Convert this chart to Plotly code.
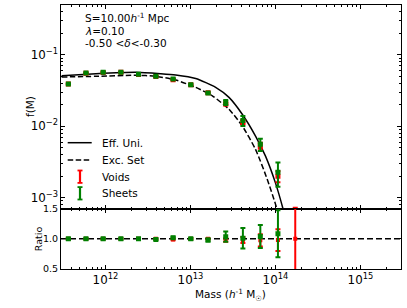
import plotly.graph_objects as go
import math

# ---------------- data ----------------
mass_bins = [3.66e11, 5.9e11, 9.4e11, 1.52e12, 2.45e12, 3.92e12, 6.25e12,
             1.01e13, 1.61e13, 2.6e13, 4.14e13, 6.64e13, 1.07e14, 1.71e14]

f_sheets = [0.0391, 0.0558, 0.0571, 0.0571, 0.0535, 0.0501, 0.0459,
            0.0382, 0.0292, 0.0216, 0.0120, 0.0056, 0.00226]
err_sheets = [0.0004, 0.0005, 0.0005, 0.0005, 0.0005, 0.0005, 0.0006,
              0.0006, 0.0008, 0.0018, 0.0019, 0.0011, 0.00084]

f_voids = [0.0390, 0.0555, 0.0568, 0.0570, 0.0533, 0.0499, 0.0450,
           0.0381, 0.0296, 0.02053, 0.01147, 0.00537, 0.00199, 0.0003]
err_voids_plus = [0.0004, 0.0005, 0.0005, 0.0005, 0.0005, 0.0005, 0.0006,
                  0.0006, 0.0004, 0.00077, 0.0008, 0.00052, 0.00035, 0.00042]
err_voids_minus = [0.0004, 0.0005, 0.0005, 0.0005, 0.0005, 0.0005, 0.0006,
                   0.0006, 0.0004, 0.00077, 0.0008, 0.00052, 0.00035, 0.00029]

ratio_sheets = [1.0, 1.0, 1.0, 1.0, 1.0, 0.99, 1.02, 1.0, 0.98, 1.035, 1.01, 1.04, 1.086]
ratio_sheets_err = [0.01, 0.01, 0.01, 0.01, 0.01, 0.01, 0.015, 0.015, 0.025, 0.085, 0.17, 0.19, 0.39]
ratio_voids = [1.0, 1.0, 1.0, 1.0, 1.0, 1.0, 0.99, 1.0, 1.0, 0.98, 0.98, 0.975, 0.98, 1.0]
ratio_voids_err = [0.01, 0.01, 0.01, 0.01, 0.01, 0.01, 0.015, 0.015, 0.01, 0.03, 0.05, 0.1, 0.18, 1.2]

mass_eff_uni = [3.05e11, 7.73e11, 2.28e12, 4.48e12, 6.71e12, 1.153e13, 1.98e13,
                2.84e13, 4.07e13, 5.83e13, 7.64e13, 1.0e14, 1.22e14, 1.43e14]
f_eff_uni = [0.0511, 0.0545, 0.0571, 0.0545, 0.0523, 0.0467, 0.0351,
             0.0254, 0.01476, 0.0073, 0.00382, 0.00161, 0.000716, 0.000332]

mass_exc_set = [3.05e11, 7.73e11, 2.28e12, 3.92e12, 6.71e12, 1.153e13, 1.81e13,
                2.84e13, 4.07e13, 5.83e13, 8.02e13, 1.02e14, 1.15e14]
f_exc_set = [0.0490, 0.0501, 0.0518, 0.0501, 0.0445, 0.0351, 0.0267,
             0.0173, 0.0101, 0.00474, 0.0018, 0.000755, 0.00046]

legend_labels = ["Eff. Uni.", "Exc. Set", "Voids", "Sheets"]

ratio_reference = 1.0
x_limits = [3e11, 3e15]
f_limits = [7e-4, 0.5]
ratio_limits = [0.5, 1.5]

RED = "#ff0000"
GREEN = "#008000"
FONT = "DejaVu Sans"
DASH = "5.5px,2.5px"

fig = go.Figure()

# ---- top panel ----
fig.add_trace(go.Scatter(x=mass_eff_uni, y=f_eff_uni, mode="lines",
                         line=dict(color="black", width=1.5, shape="spline", smoothing=0.6),
                         name=legend_labels[0], showlegend=False, xaxis="x", yaxis="y"))
fig.add_trace(go.Scatter(x=mass_exc_set, y=f_exc_set, mode="lines",
                         line=dict(color="black", width=1.5, dash=DASH,
                                   shape="spline", smoothing=0.6),
                         name=legend_labels[1], showlegend=False, xaxis="x", yaxis="y"))
fig.add_trace(go.Scatter(x=mass_bins, y=f_voids, mode="markers", name=legend_labels[2],
                         marker=dict(symbol="square", size=5, color=RED),
                         error_y=dict(type="data", array=err_voids_plus, arrayminus=err_voids_minus,
                                      color=RED, thickness=2, width=2.5),
                         showlegend=False, xaxis="x", yaxis="y"))
fig.add_trace(go.Scatter(x=mass_bins[:len(f_sheets)], y=f_sheets, mode="markers",
                         name=legend_labels[3],
                         marker=dict(symbol="square", size=5, color=GREEN),
                         error_y=dict(type="data", array=err_sheets,
                                      color=GREEN, thickness=2, width=2.5),
                         showlegend=False, xaxis="x", yaxis="y"))

# ---- ratio panel ----
fig.add_trace(go.Scatter(x=mass_bins, y=ratio_voids, mode="markers", name=legend_labels[2],
                         marker=dict(symbol="square", size=4, color=RED),
                         error_y=dict(type="data", array=ratio_voids_err,
                                      color=RED, thickness=2, width=2.5),
                         showlegend=False, xaxis="x2", yaxis="y2"))
fig.add_trace(go.Scatter(x=mass_bins[:len(ratio_sheets)], y=ratio_sheets, mode="markers",
                         name=legend_labels[3],
                         marker=dict(symbol="square", size=5, color=GREEN),
                         error_y=dict(type="data", array=ratio_sheets_err,
                                      color=GREEN, thickness=2, width=2.5),
                         showlegend=False, xaxis="x2", yaxis="y2"))

fig.add_shape(type="line", xref="x2 domain", yref="y2", x0=0, x1=1,
              y0=ratio_reference, y1=ratio_reference,
              line=dict(color="black", width=1.5, dash="6px,3px"), layer="below")

# ---- hand-drawn legend (matplotlib style) ----
L, T, W, H = 61.0, 5.0, 340.0, 264.0
def px(x):
    return (x - L) / W
def py(y):
    return (T + H - y) / H

leg_rows = [142.7, 160.0, 176.7, 193.3]
sample_x0, sample_x1, text_x = 67.7, 91.7, 100.0
icon_x = 80.0
fig.add_shape(type="line", xref="paper", yref="paper",
              x0=px(sample_x0), x1=px(sample_x1), y0=py(leg_rows[0]), y1=py(leg_rows[0]),
              line=dict(color="black", width=1.5))
fig.add_shape(type="line", xref="paper", yref="paper",
              x0=px(sample_x0), x1=px(sample_x1), y0=py(leg_rows[1]), y1=py(leg_rows[1]),
              line=dict(color="black", width=1.5, dash=DASH))
for row, col in [(leg_rows[2], RED), (leg_rows[3], GREEN)]:
    top, bot = row - 6.2, row + 6.2
    fig.add_shape(type="line", xref="paper", yref="paper",
                  x0=px(icon_x), x1=px(icon_x), y0=py(top), y1=py(bot),
                  line=dict(color=col, width=2.2))
    for yy in (top, bot):
        fig.add_shape(type="line", xref="paper", yref="paper",
                      x0=px(icon_x - 2.5), x1=px(icon_x + 2.5), y0=py(yy), y1=py(yy),
                      line=dict(color=col, width=1.8))
for lab, row in zip(legend_labels, leg_rows):
    fig.add_annotation(x=px(text_x), y=py(row), xref="paper", yref="paper",
                       text=lab, showarrow=False, xanchor="left", yanchor="middle",
                       font=dict(family=FONT, size=10.5, color="black"))

split = 60.3 / 264.0
lx = [math.log10(v) for v in x_limits]
ly = [math.log10(v) for v in f_limits]

common = dict(showline=True, linecolor="black", linewidth=1, mirror="ticks",
              ticks="inside", ticklen=4, tickcolor="black", tickwidth=1,
              showgrid=False, zeroline=False, automargin=False,
              tickfont=dict(family=FONT, size=9.5, color="black"))

fig.update_layout(
    width=407, height=308,
    margin=dict(l=61, r=6, t=5, b=39, autoexpand=False),
    paper_bgcolor="white", plot_bgcolor="white",
    font=dict(family=FONT, color="black"),
    showlegend=False,
    xaxis=dict(type="log", range=lx, domain=[0, 1], anchor="y", showticklabels=False,
               dtick=1, minor=dict(ticks="inside", ticklen=2, dtick="D1", tickcolor="black"),
               **common),
    yaxis=dict(type="log", range=ly, domain=[split, 1], anchor="x",
               dtick=1, exponentformat="power", showexponent="all",
               minor=dict(ticks="inside", ticklen=2, dtick="D1", tickcolor="black"),
               **common),
    xaxis2=dict(type="log", range=lx, domain=[0, 1], anchor="y2", matches="x",
                dtick=1, exponentformat="power", showexponent="all",
                minor=dict(ticks="inside", ticklen=2, dtick="D1", tickcolor="black"),
                **common),
    yaxis2=dict(range=ratio_limits, domain=[0, split], anchor="x2",
                tickvals=[0.5, 1.0, 1.5], tickformat=".1f",
                **common),
)

# axis titles placed like the matplotlib original
fig.add_annotation(x=px(30), y=py(107), xref="paper", yref="paper", text="f(M)",
                   textangle=-90, showarrow=False, xanchor="center", yanchor="middle",
                   font=dict(family=FONT, size=10.5, color="black"))
fig.add_annotation(x=px(38.5), y=py(238.7), xref="paper", yref="paper", text="Ratio",
                   textangle=-90, showarrow=False, xanchor="center", yanchor="middle",
                   font=dict(family=FONT, size=9.5, color="black"))
fig.add_annotation(x=px(230.7), y=py(294.5), xref="paper", yref="paper",
                   text="Mass (<i>h</i><sup>-1</sup> M<sub>☉</sub>)",
                   showarrow=False, xanchor="center", yanchor="middle",
                   font=dict(family=FONT, size=10.5, color="black"))

for txt, yp in [("S=10.00<i>h</i><sup>-1</sup> Mpc", 17.3),
                ("<i>λ</i>=0.10", 30.7),
                ("-0.50 &lt;<i>δ</i>&lt;-0.30", 42.7)]:
    fig.add_annotation(x=px(83), y=py(yp), xref="paper", yref="paper",
                       text=txt, showarrow=False, xanchor="left", yanchor="middle",
                       font=dict(family=FONT, size=10.5, color="black"))

fig.write_html("out.html", config={"displayModeBar": False},
               post_script="document.body.style.margin='0px';")
